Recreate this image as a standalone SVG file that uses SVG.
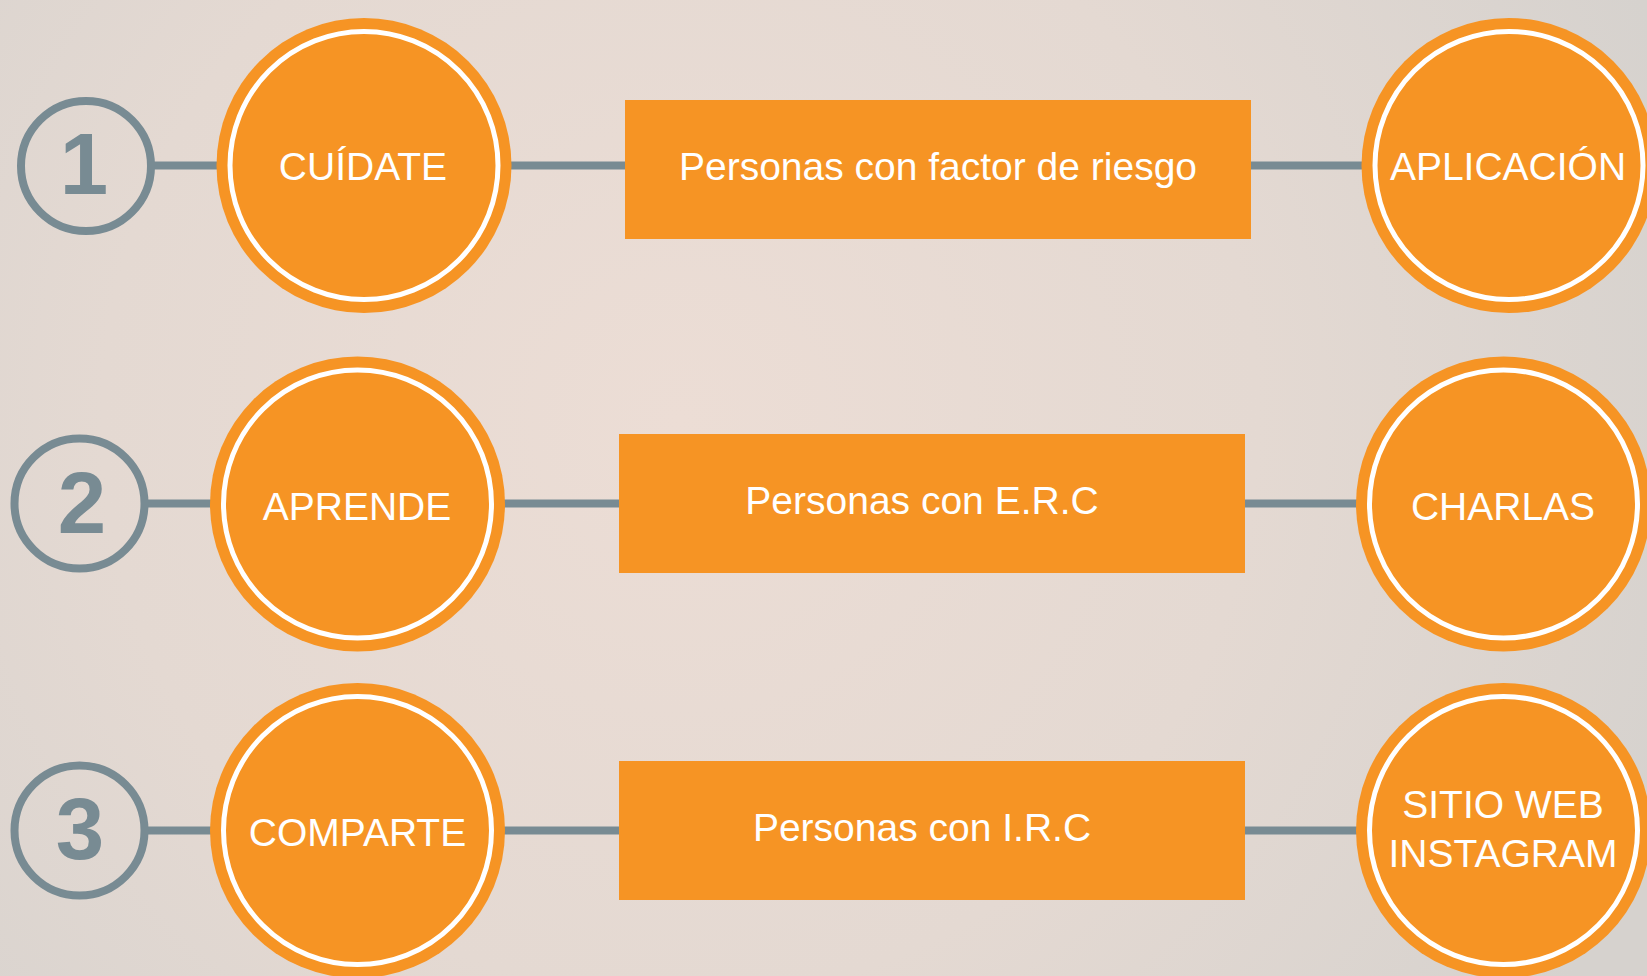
<svg xmlns="http://www.w3.org/2000/svg" width="1647" height="976" viewBox="0 0 1647 976">
  <defs>
    <radialGradient id="bg" cx="680" cy="420" r="1050" gradientUnits="userSpaceOnUse">
      <stop offset="0" stop-color="#ecddd5"/>
      <stop offset="0.55" stop-color="#e4d9d2"/>
      <stop offset="1" stop-color="#d6d2ce"/>
    </radialGradient>
    <style>
      .num { fill: none; stroke: #788b93; stroke-width: 8; }
      .numtxt { font-family: "Liberation Sans", Arial, sans-serif; font-weight: bold; font-size: 87px; fill: #788b93; text-anchor: middle; }
      .outer { fill: #f69424; }
      .ring { fill: none; stroke: #ffffff; stroke-width: 5; }
      .box { fill: #f69424; }
      .lbl { font-family: "Liberation Sans", Arial, sans-serif; font-size: 39px; fill: #ffffff; text-anchor: middle; }
      .conn { stroke: #788b93; stroke-width: 8; fill: none; }
    </style>
  </defs>
  <rect x="0" y="0" width="1647" height="976" fill="url(#bg)"/>

  <g id="connectors">
    <line class="conn" x1="150" y1="165.5" x2="220" y2="165.5"/>
    <line class="conn" x1="508" y1="165.5" x2="626" y2="165.5"/>
    <line class="conn" x1="1250" y1="165.5" x2="1365" y2="165.5"/>
    <line class="conn" x1="143" y1="503.5" x2="213" y2="503.5"/>
    <line class="conn" x1="502" y1="503.5" x2="620" y2="503.5"/>
    <line class="conn" x1="1244" y1="503.5" x2="1359" y2="503.5"/>
    <line class="conn" x1="143" y1="830.5" x2="213" y2="830.5"/>
    <line class="conn" x1="502" y1="830.5" x2="620" y2="830.5"/>
    <line class="conn" x1="1244" y1="830.5" x2="1359" y2="830.5"/>
  </g>

  <g id="num1">
    <circle class="num" cx="86" cy="166" r="65"/>
    <text class="numtxt" x="84" y="194">1</text>
  </g>
  <g id="num2">
    <circle class="num" cx="79.5" cy="503.5" r="65"/>
    <text class="numtxt" x="82" y="533">2</text>
  </g>
  <g id="num3">
    <circle class="num" cx="79.5" cy="830.5" r="65"/>
    <text class="numtxt" x="80" y="859">3</text>
  </g>

  <g id="cuidate">
    <circle class="outer" cx="364" cy="165.5" r="147.5"/>
    <circle class="ring" cx="364" cy="165.5" r="134"/>
    <text class="lbl" x="363" y="180">CUÍDATE</text>
  </g>
  <g id="aprende">
    <circle class="outer" cx="357.5" cy="504" r="147.5"/>
    <circle class="ring" cx="357.5" cy="504" r="134"/>
    <text class="lbl" x="357" y="520">APRENDE</text>
  </g>
  <g id="comparte">
    <circle class="outer" cx="357.5" cy="830.5" r="147.5"/>
    <circle class="ring" cx="357.5" cy="830.5" r="134"/>
    <text class="lbl" x="357.5" y="846">COMPARTE</text>
  </g>

  <g id="riesgo">
    <rect class="box" x="625" y="100" width="626" height="139"/>
    <text class="lbl" x="938" y="180">Personas con factor de riesgo</text>
  </g>
  <g id="erc">
    <rect class="box" x="619" y="434" width="626" height="139"/>
    <text class="lbl" x="922" y="514">Personas con E.R.C</text>
  </g>
  <g id="irc">
    <rect class="box" x="619" y="761" width="626" height="139"/>
    <text class="lbl" x="922" y="841">Personas con I.R.C</text>
  </g>

  <g id="aplicacion">
    <circle class="outer" cx="1509" cy="165.5" r="147.5"/>
    <circle class="ring" cx="1509" cy="165.5" r="134"/>
    <text class="lbl" x="1508" y="180">APLICACIÓN</text>
  </g>
  <g id="charlas">
    <circle class="outer" cx="1503.5" cy="504" r="147.5"/>
    <circle class="ring" cx="1503.5" cy="504" r="134"/>
    <text class="lbl" x="1503" y="520">CHARLAS</text>
  </g>
  <g id="web">
    <circle class="outer" cx="1503.5" cy="830.5" r="147.5"/>
    <circle class="ring" cx="1503.5" cy="830.5" r="134"/>
    <text class="lbl" x="1503" y="818">SITIO WEB</text>
    <text class="lbl" x="1503" y="866.5">INSTAGRAM</text>
  </g>
</svg>
